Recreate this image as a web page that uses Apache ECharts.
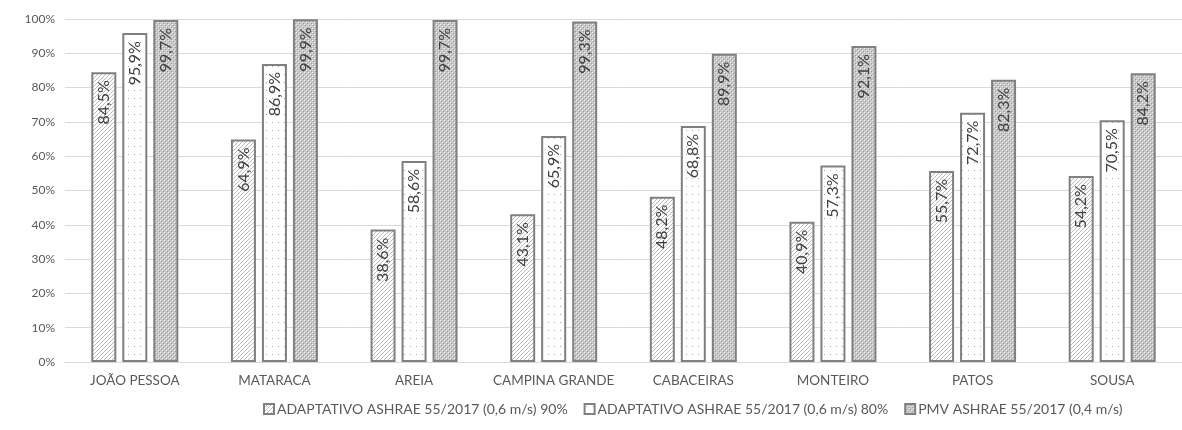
<!DOCTYPE html>
<html><head><meta charset="utf-8">
<script src="https://cdn.jsdelivr.net/npm/echarts@6/dist/echarts.min.js"></script>
<style>html,body{margin:0;padding:0;background:#fff}#c{width:1182px;height:430px}</style>
</head><body><div id="c"></div>
<script>
const categories = ['JOÃO PESSOA','MATARACA','AREIA','CAMPINA GRANDE','CABACEIRAS','MONTEIRO','PATOS','SOUSA'];
const seriesNames = ['ADAPTATIVO ASHRAE 55/2017 (0,6 m/s) 90%','ADAPTATIVO ASHRAE 55/2017 (0,6 m/s) 80%','PMV ASHRAE 55/2017 (0,4 m/s)'];
const adapt90 = [84.5, 64.9, 38.6, 43.1, 48.2, 40.9, 55.7, 54.2];
const adapt80 = [95.9, 86.9, 58.6, 65.9, 68.8, 57.3, 72.7, 70.5];
const pmv = [99.7, 99.9, 99.7, 99.3, 89.9, 92.1, 82.3, 84.2];
const yTicks = [0,10,20,30,40,50,60,70,80,90,100];

function mk(w,h,draw){const c=document.createElement('canvas');c.width=w;c.height=h;const x=c.getContext('2d');x.fillStyle='#fff';x.fillRect(0,0,w,h);draw(x);return c;}
const pat1 = mk(4,4,x=>{x.strokeStyle='#bcbcbc';x.lineWidth=1;x.beginPath();x.moveTo(-1,5);x.lineTo(5,-1);x.moveTo(3,5);x.lineTo(5,3);x.moveTo(-1,1);x.lineTo(1,-1);x.stroke();});
const pat2 = mk(6,8,x=>{x.fillStyle='#a8a8a8';x.fillRect(2,2,1,1);});
const pat3 = mk(4,4,x=>{x.fillStyle='#c8c8c8';x.fillRect(0,0,4,4);x.fillStyle='#f0f0f0';x.fillRect(0,0,1,1);x.fillRect(2,2,1,1);x.fillStyle='#9a9a9a';x.fillRect(1,1,1,1);x.fillRect(3,3,1,1);});
const pats=[pat1,pat2,pat3];
const datas=[adapt90,adapt80,pmv];

const chart = echarts.init(document.getElementById('c'));
const font='Lato';
chart.setOption({
  animation:false,
  textStyle:{fontFamily:font},
  grid:{left:65,width:1130,top:19,bottom:68},
  legend:{bottom:9,left:258,itemWidth:10,itemHeight:10,itemGap:16,icon:'rect',
    textStyle:{fontFamily:font,fontSize:14,color:'#595959',padding:[0,0,0,-2]},
    data:seriesNames},
  xAxis:{type:'category',data:categories,axisTick:{show:false},
    axisLine:{lineStyle:{color:'#d9d9d9'}},
    axisLabel:{color:'#595959',fontSize:13.5,margin:12,fontFamily:font,interval:0}},
  yAxis:{type:'value',min:0,max:100,interval:10,
    axisLabel:{color:'#595959',fontSize:12,fontFamily:font,formatter:v=>v+'%',margin:10},
    splitLine:{lineStyle:{color:'#d9d9d9'}},axisLine:{show:false},axisTick:{show:false}},
  series:datas.map((d,i)=>({
    name:seriesNames[i],type:'bar',data:d,barWidth:25,barGap:'24%',
    itemStyle:{color:{image:pats[i],repeat:'repeat'},borderColor:'#808080',borderWidth:2},
    label:{show:true,position:'insideTop',rotate:90,align:'right',verticalAlign:'middle',distance:8,
      color:'#404040',fontSize:16,fontFamily:font,
      formatter:p=>p.value.toFixed(1).replace('.',',')+'%'}
  }))
});
</script></body></html>
